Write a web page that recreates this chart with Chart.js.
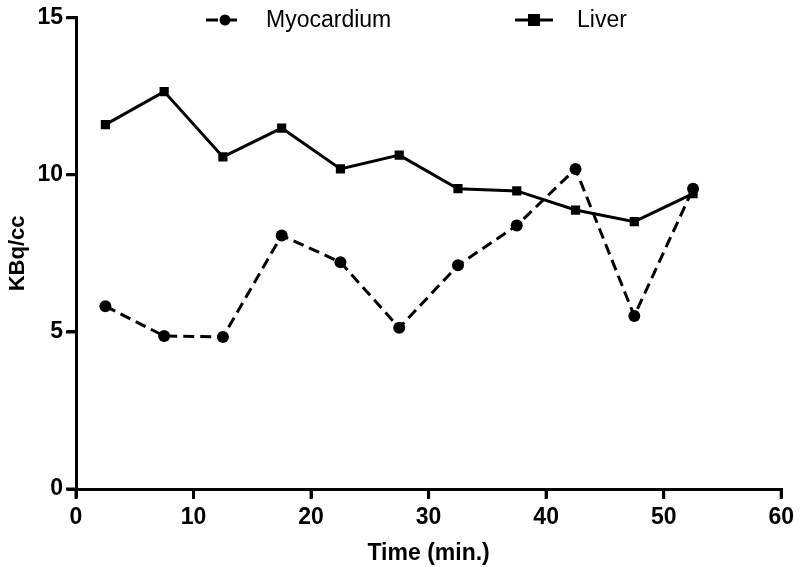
<html>
  <head>
    <title>KBq/cc over time</title>
    <script src="https://cdn.jsdelivr.net/npm/chart.js@4.4.1/dist/chart.umd.min.js"></script>
    <style>
      body { margin:0; padding:0; background:#fff; }
      .wrap { width:800px; height:567px; position:relative; }
    </style>
  </head>
  <body>
    <div class="wrap"><canvas id="myChart"></canvas></div>
    <script>
      // values
      var times       = [2.5, 7.5, 12.5, 17.5, 22.5, 27.5, 32.5, 37.5, 42.5, 47.5, 52.5];
      var myocardium  = [5.82, 4.87, 4.84, 8.07, 7.22, 5.13, 7.12, 8.39, 10.19, 5.51, 9.56];
      var liver       = [11.60, 12.65, 10.57, 11.49, 10.19, 10.63, 9.56, 9.49, 8.88, 8.51, 9.40];
      var xTicks      = [0, 10, 20, 30, 40, 50, 60];
      var yTicks      = [0, 5, 10, 15];

      var FONT = "'Liberation Sans', Arial, Helvetica, sans-serif";

      function toPoints(xs, ys) {
        return xs.map(function(x, i) { return {x: x, y: ys[i]}; });
      }

      // outward tick marks on both axes
      var tickMarks = {
        id: 'tickMarks',
        afterDraw: function(chart) {
          var ctx = chart.ctx, xs = chart.scales.x, ys = chart.scales.y;
          var area = chart.chartArea;
          ctx.save();
          ctx.strokeStyle = '#000';
          ctx.lineWidth = 3;
          ctx.beginPath();
          xTicks.forEach(function(v) {
            var px = xs.getPixelForValue(v);
            ctx.moveTo(px, area.bottom); ctx.lineTo(px, area.bottom + 10);
          });
          yTicks.forEach(function(v) {
            var py = ys.getPixelForValue(v);
            ctx.moveTo(area.left, py); ctx.lineTo(area.left - 10, py);
          });
          ctx.stroke();
          ctx.restore();
        }
      };

      // legend drawn inside the plot, like the original
      var topLegend = {
        id: 'topLegend',
        afterDraw: function(chart) {
          var ctx = chart.ctx;
          var y = 20;
          ctx.save();
          ctx.strokeStyle = '#000';
          ctx.fillStyle = '#000';
          ctx.lineWidth = 3;
          // Myocardium
          ctx.setLineDash([12, 7]);
          ctx.beginPath(); ctx.moveTo(206, y); ctx.lineTo(244, y); ctx.stroke();
          ctx.setLineDash([]);
          ctx.beginPath(); ctx.arc(225, y, 5.5, 0, Math.PI * 2); ctx.fill();
          // Liver
          ctx.beginPath(); ctx.moveTo(515, y); ctx.lineTo(553, y); ctx.stroke();
          ctx.fillRect(528, y - 6, 12, 12);
          ctx.font = '23px ' + FONT;
          ctx.textBaseline = 'middle';
          ctx.fillText('Myocardium', 266, y + 1);
          ctx.fillText('Liver', 577, y + 1);
          ctx.restore();
        }
      };

      var ctx = document.getElementById('myChart').getContext('2d');
      var myChart = new Chart(ctx, {
        type: 'line',
        data: {
          datasets: [
            {
              label: 'Myocardium',
              data: toPoints(times, myocardium),
              borderColor: '#000',
              backgroundColor: '#000',
              borderWidth: 3,
              borderDash: [11, 6],
              pointStyle: 'circle',
              pointRadius: 6,
              pointBorderWidth: 0,
              fill: false,
              tension: 0
            },
            {
              label: 'Liver',
              data: toPoints(times, liver),
              borderColor: '#000',
              backgroundColor: '#000',
              borderWidth: 3,
              pointStyle: 'rect',
              pointRadius: 6.5,
              pointBorderWidth: 0,
              fill: false,
              tension: 0
            }
          ]
        },
        options: {
          responsive: true,
          maintainAspectRatio: false,
          animation: false,
          layout: { padding: { top: 15, right: 16, left: 0, bottom: 0 } },
          plugins: {
            legend: { display: false },
            tooltip: { enabled: false }
          },
          scales: {
            x: {
              type: 'linear',
              min: 0, max: 60,
              afterBuildTicks: function(s) { s.ticks = xTicks.map(function(v) { return {value: v}; }); },
              afterFit: function(s) { s.height = 78; },
              border: { color: '#000', width: 3 },
              grid: { drawOnChartArea: false, drawTicks: true, tickLength: 9, color: '#000', lineWidth: 3 },
              ticks: { color: '#000', padding: 6, maxRotation: 0, font: { family: FONT, size: 23, weight: 'bold' } },
              title: { display: true, text: 'Time (min.)', color: '#000', padding: { top: 4, bottom: 0 }, font: { family: FONT, size: 23, weight: 'bold' } }
            },
            y: {
              min: 0, max: 15,
              afterBuildTicks: function(s) { s.ticks = yTicks.map(function(v) { return {value: v}; }); },
              afterFit: function(s) { s.width = 76; },
              border: { color: '#000', width: 3 },
              grid: { drawOnChartArea: false, drawTicks: true, tickLength: 9, color: '#000', lineWidth: 3 },
              ticks: { color: '#000', padding: 4, font: { family: FONT, size: 23, weight: 'bold' } },
              title: { display: true, text: 'KBq/cc', color: '#000', padding: { top: 5, bottom: 4 }, font: { family: FONT, size: 22, weight: 'bold' } }
            }
          }
        },
        plugins: [tickMarks, topLegend]
      });
    </script>
  </body>
</html>
